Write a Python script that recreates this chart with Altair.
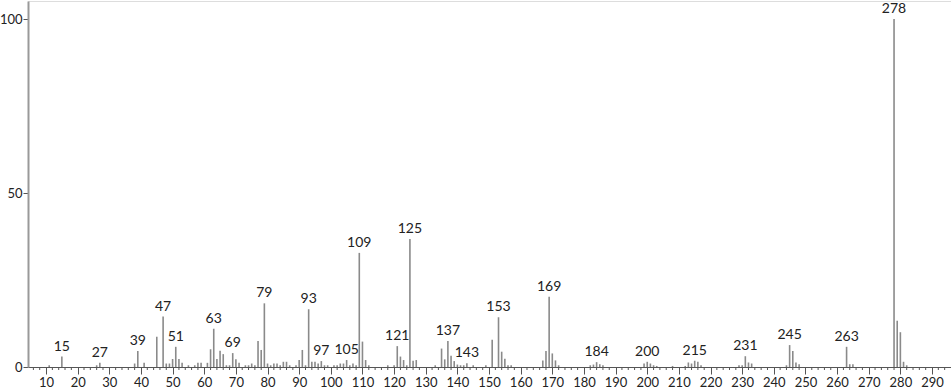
import altair as alt
import pandas as pd

mz = [11, 15, 26, 27, 38, 39, 41, 45, 47, 48, 49, 50, 51, 52, 53, 55, 57, 58, 59, 61,
      62, 63, 64, 65, 66, 67, 68, 69, 70, 71, 73, 74, 75, 76, 77, 78, 79, 80, 81, 82,
      83, 84, 85, 86, 87, 89, 90, 91, 92, 93, 94, 95, 96, 97, 98, 99, 101, 102, 103, 104,
      105, 106, 107, 108, 109, 110, 111, 112, 118, 120, 121, 122, 123, 124, 125, 126, 127, 133, 135, 136,
      137, 138, 139, 140, 141, 142, 143, 145, 149, 151, 153, 154, 155, 156, 157, 167, 168, 169, 170, 171,
      172, 182, 183, 184, 185, 186, 199, 200, 201, 202, 203, 208, 212, 213, 214, 215, 216, 217, 229, 230,
      231, 232, 233, 244, 245, 246, 247, 248, 263, 264, 265, 278, 279, 280, 281, 282]
intensity = [0.5, 3.0, 0.5, 1.2, 1.0, 4.6, 1.2, 8.7, 14.5, 1.0, 1.0, 2.3, 5.8, 2.3, 1.2, 0.5, 0.5, 1.2, 1.2, 1.2,
             5.1, 11.0, 2.3, 4.7, 3.7, 0.5, 0.5, 4.0, 2.2, 1.2, 0.5, 0.5, 1.0, 0.5, 7.5, 4.9, 18.3, 1.0, 0.5, 1.0,
             1.0, 0.5, 1.5, 1.5, 0.5, 0.5, 2.0, 4.9, 0.5, 16.6, 1.5, 1.5, 1.0, 1.7, 0.5, 0.5, 0.5, 0.5, 1.0, 1.0,
             2.0, 0.5, 1.0, 0.5, 32.8, 7.3, 2.0, 0.5, 0.5, 0.5, 6.0, 3.0, 2.0, 0.5, 36.8, 1.8, 2.0, 0.5, 5.3, 2.2,
             7.5, 3.2, 1.7, 0.7, 0.5, 0.5, 1.1, 0.5, 0.5, 7.8, 14.3, 4.4, 2.4, 0.5, 0.5, 1.9, 4.6, 20.2, 3.9, 1.9,
             0.5, 0.5, 0.7, 1.4, 0.8, 0.5, 1.0, 1.5, 1.0, 0.5, 0.3, 0.3, 0.3, 1.3, 1.0, 1.8, 1.5, 0.5, 0.5, 0.5,
             3.1, 1.3, 1.0, 0.5, 6.3, 4.6, 1.3, 0.8, 5.8, 0.8, 0.8, 100.0, 13.3, 10.0, 1.5, 0.5]

labeled = [15, 27, 39, 47, 51, 63, 69, 79, 93, 97, 105, 109, 121, 125, 137, 143,
           153, 169, 184, 200, 215, 231, 245, 263, 278]

x_major = list(range(10, 300, 10))
x_minor = [v for v in range(6, 296, 2) if v % 10 != 0]
y_ticks = [0, 50, 100]

df = pd.DataFrame({"mz": mz, "intensity": intensity})
df["label"] = [str(m) if m in labeled else "" for m in mz]
minor_df = pd.DataFrame({"tick": x_minor})

FONT = "Lato"
AXC = "#555"
xscale = alt.Scale(domain=[4.3, 296], nice=False, zero=False)
yscale = alt.Scale(domain=[0, 105.2], nice=False)

x_axis = alt.Axis(
    values=x_major, title=None, grid=False, labelOverlap=False,
    labelFont=FONT, labelFontSize=13, labelColor="#222", labelPadding=2, labelFlush=False,
    tickSize=7, tickColor=AXC, tickWidth=1, domainColor=AXC, domainWidth=1,
)
y_axis = alt.Axis(
    values=y_ticks, title=None, grid=False, tickSize=5, tickColor=AXC,
    domainColor="#999", domainWidth=2, labelFont=FONT, labelFontSize=13,
    labelColor="#222", labelPadding=1, labelFlush=False, labelOverlap=False,
)

bars = alt.Chart(df).mark_rule(color="#8a8a8a", strokeWidth=1.6).encode(
    x=alt.X("mz:Q", scale=xscale, axis=x_axis),
    y=alt.Y("intensity:Q", scale=yscale, axis=y_axis),
    y2=alt.datum(0),
)

minor = alt.Chart(minor_df).mark_rule(color=AXC, strokeWidth=1, clip=False).encode(
    x=alt.X("tick:Q", scale=xscale, axis=x_axis),
    y=alt.value(366),
    y2=alt.value(369),
)

texts = alt.Chart(df[df["label"] != ""]).mark_text(
    font=FONT, fontSize=14, color="#222", baseline="alphabetic", dy=-6
).encode(
    x=alt.X("mz:Q", scale=xscale, axis=x_axis),
    y=alt.Y("intensity:Q", scale=yscale, axis=y_axis),
    text="label:N",
)

chart = alt.layer(bars, minor, texts).properties(
    width=923, height=366,
    autosize=alt.AutoSizeParams(type="none"),
    padding={"left": 28, "top": 1, "right": 0, "bottom": 22},
).configure_view(stroke=None).configure_axis(labelOverlap=False).configure(background="white")

chart.save("out.html", embed_options={"renderer": "svg", "actions": False})
